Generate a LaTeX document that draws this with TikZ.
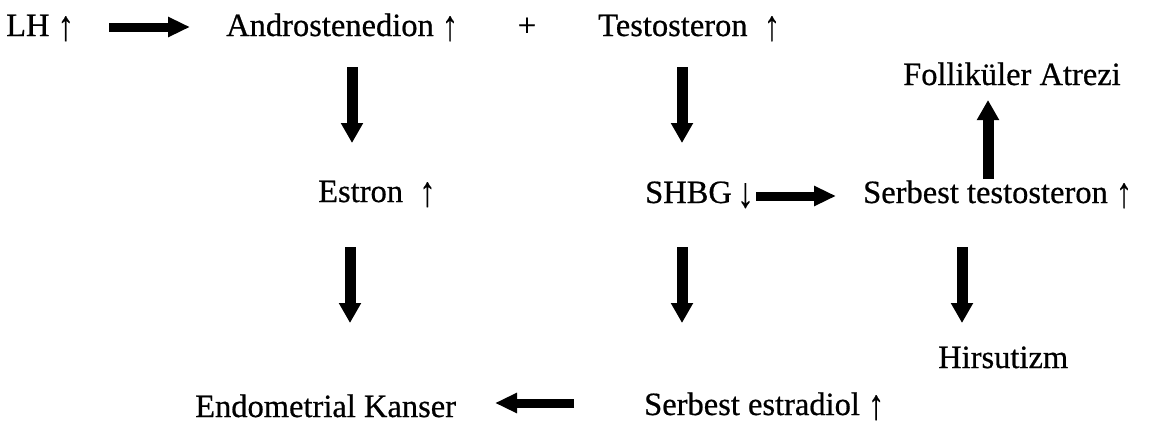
\documentclass[tikz,border=0pt]{standalone}
\usepackage{fontspec}
\setmainfont{Liberation Serif}[BoldFont=Liberation Serif,BoldFeatures={FakeBold=0.6}]
\usetikzlibrary{arrows.meta}
\newcommand{\uparr}{\raisebox{-0.12em}{\scalebox{1}[1.3]{↑}}}
\newcommand{\dnarr}{\raisebox{-0.12em}{\scalebox{1}[1.3]{↓}}}
\begin{document}
\begin{tikzpicture}[x=1pt,y=-1pt,
  lbl/.style={anchor=base west,inner sep=0pt,font=\fontsize{32.5}{38}\selectfont\bfseries},
  varrow/.style={line width=11pt,-{Triangle[length=20pt,width=21pt]}},
  harrow/.style={line width=9pt,-{Triangle[length=22pt,width=19pt]}}]
\useasboundingbox (0,0) rectangle (1154,434);
% texts
\node[lbl] (lh) at (6,36) {LH \uparr};
\node[lbl] (andro) at (226,36) {Androstenedion \uparr};
\node[lbl,anchor=base] (plus) at (527,36) {+};
\node[lbl] (testo) at (598,36) {Testosteron~~\uparr};
\node[lbl] (foll) at (903,85) {Folliküler Atrezi};
\node[lbl] (estron) at (318,202) {Estron~~\uparr};
\node[lbl] (shbg) at (645,203) {SHBG\,\dnarr};
\node[lbl] (sfree) at (863,203) {Serbest testosteron \uparr};
\node[lbl] (hirs) at (938,368) {Hirsutizm};
\node[lbl] (endo) at (195,417) {Endometrial Kanser};
\node[lbl] (sestr) at (644,415) {Serbest estradiol \uparr};
% arrow end points
\coordinate (a1s) at (109,27);  \coordinate (a1e) at (190,27);
\coordinate (a2s) at (352,67);  \coordinate (a2e) at (352,143);
\coordinate (a3s) at (682,67);  \coordinate (a3e) at (682,143);
\coordinate (a4s) at (988,179); \coordinate (a4e) at (988,100);
\coordinate (a5s) at (756,196); \coordinate (a5e) at (836,196);
\coordinate (a6s) at (350,247); \coordinate (a6e) at (350,323);
\coordinate (a7s) at (682,247); \coordinate (a7e) at (682,323);
\coordinate (a8s) at (962,247); \coordinate (a8e) at (962,323);
\coordinate (a9s) at (574,403); \coordinate (a9e) at (495,403);
% arrows
\draw[harrow] (a1s) -- (a1e);
\draw[varrow] (a2s) -- (a2e);
\draw[varrow] (a3s) -- (a3e);
\draw[varrow] (a4s) -- (a4e);
\draw[harrow] (a5s) -- (a5e);
\draw[varrow] (a6s) -- (a6e);
\draw[varrow] (a7s) -- (a7e);
\draw[varrow] (a8s) -- (a8e);
\draw[harrow] (a9s) -- (a9e);
\end{tikzpicture}
\end{document}
